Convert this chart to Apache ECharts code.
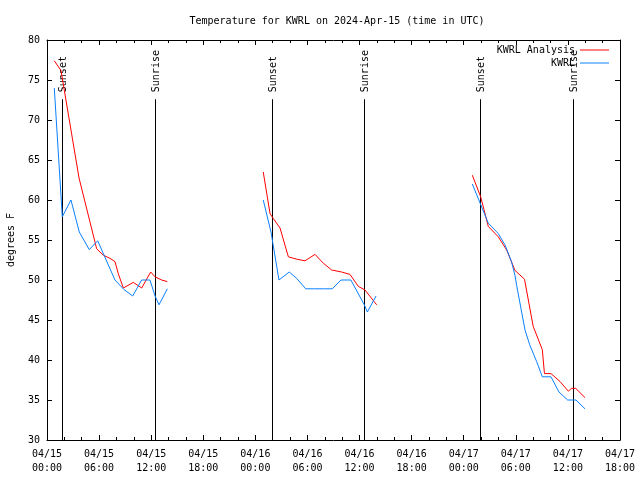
<!DOCTYPE html>
<html>
<head>
<meta charset="utf-8">
<script src="https://cdn.jsdelivr.net/npm/echarts@6/dist/echarts.min.js"></script>
<style>
html,body{margin:0;padding:0;background:#fff;}
#chart{width:640px;height:480px;}
</style>
</head>
<body>
<div id="chart"></div>
<script>
// x values are hours since 04/15 00:00 UTC
const tickLabels = ['04/15\n00:00','04/15\n06:00','04/15\n12:00','04/15\n18:00',
  '04/16\n00:00','04/16\n06:00','04/16\n12:00','04/16\n18:00',
  '04/17\n00:00','04/17\n06:00','04/17\n12:00','04/17\n18:00'];

const analysisDay1 = [[0.84,77.4],[1.61,76.2],[3.69,62.75],[5.72,53.9],[6.49,53.1],[7.26,52.7],[7.83,52.3],[8.21,50.8],[8.79,49.0],[9.94,49.7],[10.91,49.0],[11.94,51.0],[12.44,50.4],[13.21,50.0],[13.86,49.8]];
const analysisDay2 = [[24.91,63.5],[25.69,58.3],[26.06,57.7],[26.84,56.5],[27.8,52.9],[28.76,52.6],[29.72,52.4],[30.87,53.2],[31.83,52.1],[32.79,51.25],[33.94,51.0],[34.9,50.7],[35.86,49.2],[36.63,48.75],[37.97,46.9]];
const analysisDay3 = [[48.99,63.1],[49.95,60.4],[50.83,56.7],[51.98,55.4],[52.95,53.75],[53.9,51.2],[55.0,50.1],[56.0,44.2],[57.05,41.3],[57.3,38.3],[58.05,38.3],[59.1,37.3],[60.05,36.1],[60.4,36.45],[60.9,36.45],[61.97,35.3]];

const obsDay1 = [[0.84,74.0],[1.7,59.0],[1.76,57.9],[2.76,60.0],[3.72,56.0],[4.87,53.8],[5.84,54.9],[7.83,50.0],[8.87,48.8],[9.87,48.0],[10.9,50.0],[11.86,50.0],[12.45,48.0],[12.9,46.9],[13.86,48.9]];
const obsDay2 = [[24.91,60.0],[25.8,56.0],[26.72,50.0],[27.9,51.0],[28.76,50.2],[29.8,48.9],[30.8,48.9],[31.85,48.9],[32.86,48.9],[33.86,50.0],[35.0,50.0],[36.55,46.9],[36.9,46.0],[37.9,48.0]];
const obsDay3 = [[48.99,62.0],[50.83,57.1],[51.98,55.8],[52.75,54.4],[53.5,52.3],[53.9,50.6],[54.1,49.3],[54.67,46.0],[55.06,43.75],[55.6,41.9],[56.4,39.8],[57.05,37.9],[58.05,37.9],[58.97,36.0],[59.97,35.0],[60.93,35.0],[61.97,33.9]];

const sunTimes = [1.76, 12.47, 25.88, 36.55, 49.92, 60.62];
const sunLabels = ['Sunset','Sunrise','Sunset','Sunrise','Sunset','Sunrise'];

const FONT = 'DejaVu Sans Mono';
const sunLineTop = 72.6;

function joinSegments(segs){
  const out = [];
  segs.forEach((s,i)=>{
    if(i>0) out.push([s[0][0]-0.5, null]);
    s.forEach(p=>out.push(p));
  });
  return out;
}

const chart = echarts.init(document.getElementById('chart'), null, {renderer:'canvas'});

chart.setOption({
  animation:false,
  backgroundColor:'#fff',
  title:{
    text:'Temperature for KWRL on 2024-Apr-15 (time in UTC)',
    left:332, top:11, textAlign:'center',
    textStyle:{fontFamily:FONT,fontSize:10,fontWeight:'normal',color:'#000'}
  },
  legend:[
    {data:['KWRL Analysis'], right:26, top:40, align:'right', icon:'rect', itemWidth:29, itemHeight:1, itemGap:0,
     textStyle:{fontFamily:FONT,fontSize:10,color:'#000'}},
    {data:['KWRL'], right:26, top:53, align:'right', icon:'rect', itemWidth:29, itemHeight:1, itemGap:0,
     textStyle:{fontFamily:FONT,fontSize:10,color:'#000'}}
  ],
  grid:{left:47,right:20,top:40,bottom:40,containLabel:false,outerBoundsMode:'none'},
  xAxis:[
    {type:'value',min:0,max:66,interval:6,position:'bottom',
     axisLine:{show:true,onZero:false,lineStyle:{color:'#000',width:1}},
     axisTick:{show:true,inside:true,length:5,lineStyle:{color:'#000'}},
     minorTick:{show:true,splitNumber:3,length:3,lineStyle:{color:'#000'}},
     splitLine:{show:false},
     axisLabel:{formatter:v=>tickLabels[Math.round(v/6)],fontFamily:FONT,fontSize:10,color:'#000',lineHeight:14,margin:7}},
    {type:'value',min:0,max:66,interval:6,position:'top',
     axisLine:{show:true,onZero:false,lineStyle:{color:'#000',width:1}},
     axisTick:{show:true,inside:true,length:5,lineStyle:{color:'#000'}},
     minorTick:{show:true,splitNumber:3,length:3,lineStyle:{color:'#000'}},
     splitLine:{show:false},axisLabel:{show:false}}
  ],
  yAxis:[
    {type:'value',min:30,max:80,interval:5,position:'left',
     name:'degrees F',nameLocation:'middle',nameGap:31,nameRotate:90,
     nameTextStyle:{fontFamily:FONT,fontSize:10,color:'#000'},
     axisLine:{show:true,onZero:false,lineStyle:{color:'#000',width:1}},
     axisTick:{show:true,inside:true,length:5,lineStyle:{color:'#000'}},
     splitLine:{show:false},
     axisLabel:{fontFamily:FONT,fontSize:10,color:'#000',margin:7}},
    {type:'value',min:30,max:80,interval:5,position:'right',
     axisLine:{show:true,onZero:false,lineStyle:{color:'#000',width:1}},
     axisTick:{show:true,inside:true,length:5,lineStyle:{color:'#000'}},
     splitLine:{show:false},axisLabel:{show:false}}
  ],
  series:[
    {name:'sun',type:'custom',xAxisIndex:0,yAxisIndex:0,silent:true,
     data:sunTimes.map(t=>[t,sunLineTop]),
     renderItem:function(params,api){
       const t = api.value(0);
       const top = api.coord([t, api.value(1)]);
       const bot = api.coord([t, 30]);
       const x = Math.round(top[0]) + 0.5;
       return {type:'group',children:[
         {type:'line',shape:{x1:x,y1:top[1],x2:x,y2:bot[1]},style:{stroke:'#000',lineWidth:1}},
         {type:'text',x:x+1,y:top[1]-7,rotation:Math.PI/2,
          style:{text:sunLabels[params.dataIndex],fill:'#000',font:'10px "'+FONT+'"',
                 align:'left',verticalAlign:'middle',textAlign:'left',textVerticalAlign:'middle'}}
       ]};
     }},
    {name:'KWRL Analysis',type:'line',xAxisIndex:0,yAxisIndex:0,symbol:'none',connectNulls:false,
     color:'#ff0000',lineStyle:{color:'#ff0000',width:1},
     data:joinSegments([analysisDay1,analysisDay2,analysisDay3])},
    {name:'KWRL',type:'line',xAxisIndex:0,yAxisIndex:0,symbol:'none',connectNulls:false,
     color:'#0a80ff',lineStyle:{color:'#0a80ff',width:1},
     data:joinSegments([obsDay1,obsDay2,obsDay3])}
  ]
});
</script>
</body>
</html>
